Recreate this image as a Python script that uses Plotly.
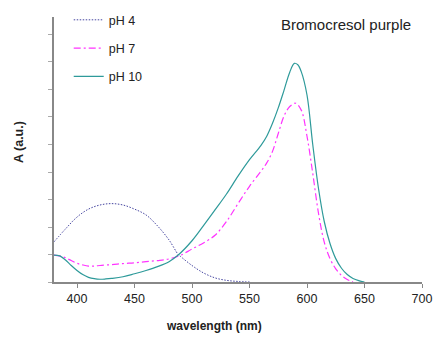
import plotly.graph_objects as go

# pH 4 (dotted blue)
wl_ph4 = [380, 390, 400, 410, 420, 430, 440, 450, 460, 470, 480, 488, 490, 500, 510, 520, 530, 540, 550]
a_ph4 = [0.146, 0.193, 0.236, 0.265, 0.280, 0.285, 0.280, 0.265, 0.244, 0.204, 0.153, 0.100, 0.093, 0.060, 0.033, 0.015, 0.006, 0.002, 0.0]

# pH 7 (magenta dash-dot)
wl_ph7 = [380, 385, 390, 395, 400, 405, 410, 415, 420, 430, 440, 450, 460, 470, 480, 490, 500, 510, 520, 530,
          540, 550, 560, 565, 570, 575, 580, 585, 590, 595, 600, 605, 610, 615, 620, 625, 630, 635, 640]
a_ph7 = [0.098, 0.095, 0.088, 0.078, 0.068, 0.062, 0.058, 0.058, 0.060, 0.063, 0.067, 0.070, 0.074, 0.078, 0.084,
         0.097, 0.120, 0.142, 0.170, 0.220, 0.285, 0.348, 0.403, 0.433, 0.475, 0.540, 0.603, 0.638, 0.650, 0.625,
         0.530, 0.395, 0.250, 0.145, 0.085, 0.048, 0.024, 0.009, 0.0]

# pH 10 (solid teal)
wl_ph10 = [380, 385, 390, 395, 400, 405, 410, 415, 420, 425, 430, 440, 450, 460, 470, 480, 488, 500, 510, 520,
           530, 540, 550, 560, 565, 570, 575, 580, 585, 589, 592, 595, 600, 605, 610, 615, 620, 625, 630, 635,
           640, 645, 650]
a_ph10 = [0.098, 0.095, 0.080, 0.060, 0.042, 0.027, 0.017, 0.012, 0.010, 0.011, 0.013, 0.019, 0.030, 0.042,
          0.056, 0.074, 0.098, 0.150, 0.205, 0.262, 0.320, 0.385, 0.445, 0.497, 0.530, 0.577, 0.633, 0.697,
          0.763, 0.795, 0.790, 0.765, 0.680, 0.500, 0.340, 0.220, 0.140, 0.085, 0.050, 0.027, 0.013, 0.005, 0.0]

x_ticks = [400, 450, 500, 550, 600, 650, 700]

fig = go.Figure()
fig.add_trace(go.Scatter(x=wl_ph4, y=a_ph4, mode="lines", name="pH 4", legendgroup="a",
                         line=dict(color="#4545a0", width=1, dash="1.5px,1.5px", shape="spline")))
fig.add_trace(go.Scatter(x=wl_ph7, y=a_ph7, mode="lines", name="pH 7", legendgroup="b",
                         line=dict(color="#ff33ff", width=1.2, dash="7px,3px,2px,3px", shape="spline")))
fig.add_trace(go.Scatter(x=wl_ph10, y=a_ph10, mode="lines", name="pH 10", legendgroup="c",
                         line=dict(color="#2e9a9a", width=1.2, shape="spline")))

L, R, T, B = 54, 13, 17, 62
W, H = 435, 344
pw = W - L - R
ph = H - T - B


def px(x, y):
    return (x - L) / pw, (H - B - y) / ph


ann_specs = [
    ("Bromocresol purple", 346, 24, 15, 0),
    ("<b>wavelength (nm)</b>", 214, 326, 12, 0),
    ("<b>A (a.u.)</b>", 19, 142, 12.5, -90),
]
annotations = []
for text, ax, ay, size, ang in ann_specs:
    xx, yy = px(ax, ay)
    annotations.append(dict(text=text, x=xx, y=yy, xref="paper", yref="paper", showarrow=False,
                            xanchor="center", yanchor="middle", textangle=ang,
                            font=dict(size=size, color="#222")))

fig.update_layout(
    width=W, height=H,
    margin=dict(l=L, r=R, t=T, b=B, autoexpand=False),
    paper_bgcolor="white", plot_bgcolor="white",
    font=dict(family="Liberation Sans, Arial, sans-serif", color="#222"),
    showlegend=True,
    legend=dict(x=0.04, y=1.0446, xanchor="left", yanchor="top", bgcolor="rgba(0,0,0,0)",
                font=dict(size=12.5, color="#222"), tracegroupgap=9, itemwidth=30),
    xaxis=dict(range=[380, 700], tickvals=x_ticks, ticks="outside", ticklen=4, tickcolor="#888",
               showline=True, linecolor="#888", linewidth=1.5, showgrid=False, zeroline=False,
               tickfont=dict(size=12.5, color="#222")),
    yaxis=dict(range=[0, 0.9636], dtick=0.1, tick0=0, ticks="outside", ticklen=4, tickcolor="#aaa",
               showline=True, linecolor="#888", linewidth=1.5, showgrid=False, zeroline=False,
               showticklabels=False),
    annotations=annotations,
)

fig.write_html("out.html", config={"displayModeBar": False},
               post_script="document.body.style.margin='0';")
